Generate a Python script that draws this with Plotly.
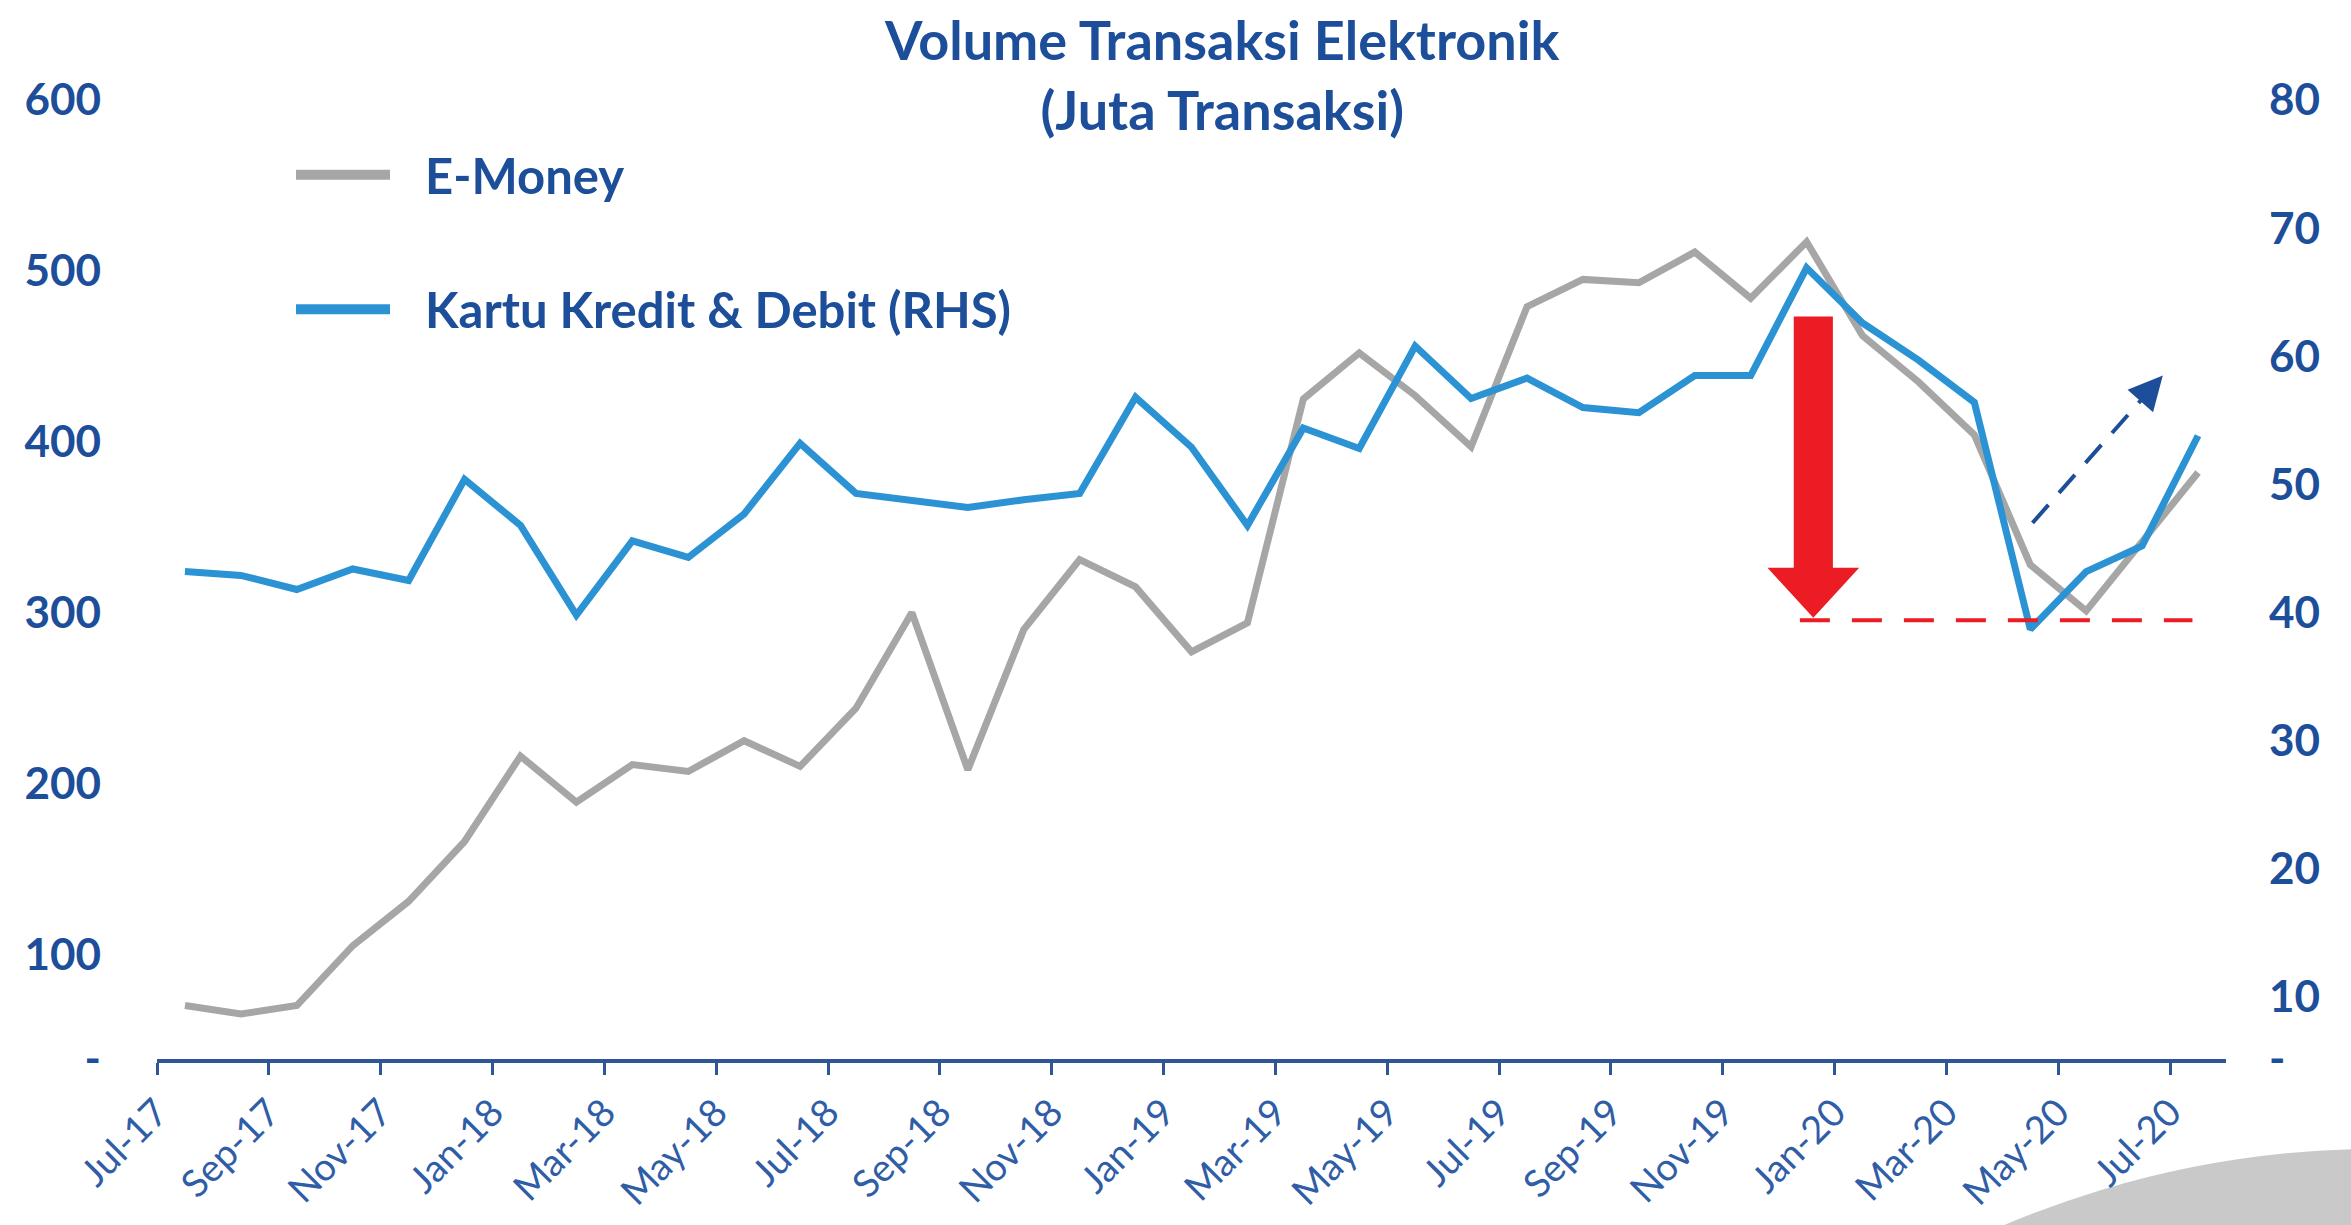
import plotly.graph_objects as go

# Monthly electronic transaction volume (million transactions)
MONTHS = [
    "Jul-17", "Aug-17", "Sep-17", "Oct-17", "Nov-17", "Dec-17",
    "Jan-18", "Feb-18", "Mar-18", "Apr-18", "May-18", "Jun-18",
    "Jul-18", "Aug-18", "Sep-18", "Oct-18", "Nov-18", "Dec-18",
    "Jan-19", "Feb-19", "Mar-19", "Apr-19", "May-19", "Jun-19",
    "Jul-19", "Aug-19", "Sep-19", "Oct-19", "Nov-19", "Dec-19",
    "Jan-20", "Feb-20", "Mar-20", "Apr-20", "May-20", "Jun-20", "Jul-20",
]

E_MONEY = [
    70, 65, 70, 105, 131, 166,
    216, 189, 211, 207, 225, 210,
    244, 300, 208, 290, 331, 315,
    277, 294, 425, 452, 427, 397,
    479, 495, 493, 511, 484, 517,
    462, 435, 404, 328, 301, 342, 382,
]

KARTU = [
    43.2, 42.9, 41.8, 43.4, 42.5, 50.4,
    46.8, 39.8, 45.6, 44.3, 47.7, 53.2,
    49.3, 48.8, 48.2, 48.8, 49.3, 56.8,
    52.9, 46.8, 54.4, 52.8, 60.8, 56.7,
    58.3, 56.0, 55.6, 58.5, 58.5, 66.9,
    62.6, 59.7, 56.4, 38.7, 43.2, 45.2, 53.8,
]

LEFT_TICKS = [100, 200, 300, 400, 500, 600]
RIGHT_TICKS = [10, 20, 30, 40, 50, 60, 70, 80]

# the category axis sits a little above zero on both scales
LEFT_FLOOR = 38.7
RIGHT_FLOOR = LEFT_FLOOR * 80 / 600

# annotation levels (RHS scale)
DROP_FROM = "Dec-19"
DROP_TOP = 63.1
DROP_HEAD = 43.5
TROUGH_LEVEL = 39.4
REBOUND_START = (33.04, 47.0)
REBOUND_END = (35.37, 58.5)

NAVY = "#1D4E9A"
TICK_BLUE = "#2F5DA6"
GREY = "#A6A6A6"
BLUE = "#2B93D3"
RED = "#EC1C24"
FONT = "Lato"

W, H = 2351, 1225
ML, MR, MT, MB = 157, 125, 100, 163
PW, PH = W - ML - MR, H - MT - MB


def px(x):
    return (x - ML) / PW


def py(y):
    return (H - MB - y) / PH


xs = list(range(len(MONTHS)))

fig = go.Figure()
fig.add_trace(go.Scatter(
    x=xs, y=E_MONEY, name="E-Money", mode="lines",
    line=dict(color=GREY, width=7), yaxis="y",
))
fig.add_trace(go.Scatter(
    x=xs, y=KARTU, name="Kartu Kredit & Debit (RHS)", mode="lines",
    line=dict(color=BLUE, width=7), yaxis="y2",
))

tick_idx = list(range(0, len(MONTHS), 2))

shapes = []
annotations = []

# decorative corner disc
shapes.append(dict(
    type="circle", xref="paper", yref="paper", layer="below",
    x0=px(1420), x1=px(3340), y0=py(1152), y1=py(3072),
    fillcolor="#C9C9C9", line=dict(width=0),
))

# hand-drawn legend
for label, color, ypix in [("E-Money", GREY, 175),
                           ("Kartu Kredit &amp; Debit (RHS)", BLUE, 310)]:
    shapes.append(dict(
        type="line", xref="paper", yref="paper",
        x0=px(296), x1=px(390), y0=py(ypix), y1=py(ypix),
        line=dict(color=color, width=10),
    ))
    annotations.append(dict(
        text=label, xref="paper", yref="paper", x=px(423), y=py(ypix),
        xanchor="left", yanchor="middle", showarrow=False,
        font=dict(family=FONT, size=49, color=NAVY, weight="bold"),
    ))

# red drop arrow
cx = MONTHS.index(DROP_FROM) + 0.12
shw, hhw = 0.35, 0.82
path = (f"M {cx - shw},{DROP_TOP} L {cx + shw},{DROP_TOP} "
        f"L {cx + shw},{DROP_HEAD} L {cx + hhw},{DROP_HEAD} "
        f"L {cx},{TROUGH_LEVEL + 0.2} L {cx - hhw},{DROP_HEAD} "
        f"L {cx - shw},{DROP_HEAD} Z")
shapes.append(dict(
    type="path", xref="x", yref="y2", path=path, layer="above",
    fillcolor=RED, line=dict(width=0),
))
shapes.append(dict(
    type="line", xref="x", yref="y2", layer="above",
    x0=cx - 0.24, x1=len(MONTHS) - 1.1, y0=TROUGH_LEVEL, y1=TROUGH_LEVEL,
    line=dict(color=RED, width=4, dash="30px,22px"),
))

# dashed rebound arrow
(x0, y0), (x1, y1) = REBOUND_START, REBOUND_END
bx, by = x1 - 0.12 * (x1 - x0), y1 - 0.12 * (y1 - y0)
shapes.append(dict(
    type="line", xref="x", yref="y2", layer="above",
    x0=x0, y0=y0, x1=bx, y1=by,
    line=dict(color=NAVY, width=4, dash="24px,16px"),
))
annotations.append(dict(
    x=x1, y=y1, xref="x", yref="y2", ax=bx, ay=by, axref="x", ayref="y2",
    text="", showarrow=True, arrowhead=2, arrowsize=1.7, arrowwidth=4,
    arrowcolor=NAVY,
))

# title
annotations.append(dict(
    text="Volume Transaksi Elektronik<br>(Juta Transaksi)",
    xref="paper", yref="paper", x=px(1222), y=py(74),
    xanchor="center", yanchor="middle", showarrow=False,
    font=dict(family=FONT, size=54, color=NAVY, weight="bold"),
))

fig.update_layout(
    width=W, height=H, autosize=False,
    margin=dict(l=ML, r=MR, t=MT, b=MB),
    paper_bgcolor="white", plot_bgcolor="rgba(0,0,0,0)",
    showlegend=False,
    shapes=shapes, annotations=annotations,
    xaxis=dict(
        range=[-0.5, len(MONTHS) - 0.5],
        tickvals=[i - 0.5 for i in tick_idx],
        ticktext=[MONTHS[i] for i in tick_idx],
        tickangle=-45, ticks="outside", ticklen=12, tickwidth=3,
        tickcolor="#2F5597", showline=True, linecolor="#2F5597", linewidth=4,
        showgrid=False, zeroline=False,
        tickfont=dict(family=FONT, size=38, color=TICK_BLUE),
    ),
    yaxis=dict(
        range=[LEFT_FLOOR, 600],
        tickvals=[LEFT_FLOOR] + LEFT_TICKS,
        ticktext=["-"] + [str(v) for v in LEFT_TICKS],
        showgrid=False, zeroline=False, showline=False, ticks="",
        ticklabelstandoff=55,
        tickfont=dict(family=FONT, size=44, color=NAVY, weight="bold"),
    ),
    yaxis2=dict(
        range=[RIGHT_FLOOR, 80], overlaying="y", side="right",
        tickvals=[RIGHT_FLOOR] + RIGHT_TICKS,
        ticktext=["-"] + [str(v) for v in RIGHT_TICKS],
        showgrid=False, zeroline=False, showline=False, ticks="",
        ticklabelstandoff=42,
        tickfont=dict(family=FONT, size=44, color=NAVY, weight="bold"),
    ),
)

fig.write_html("out.html")
